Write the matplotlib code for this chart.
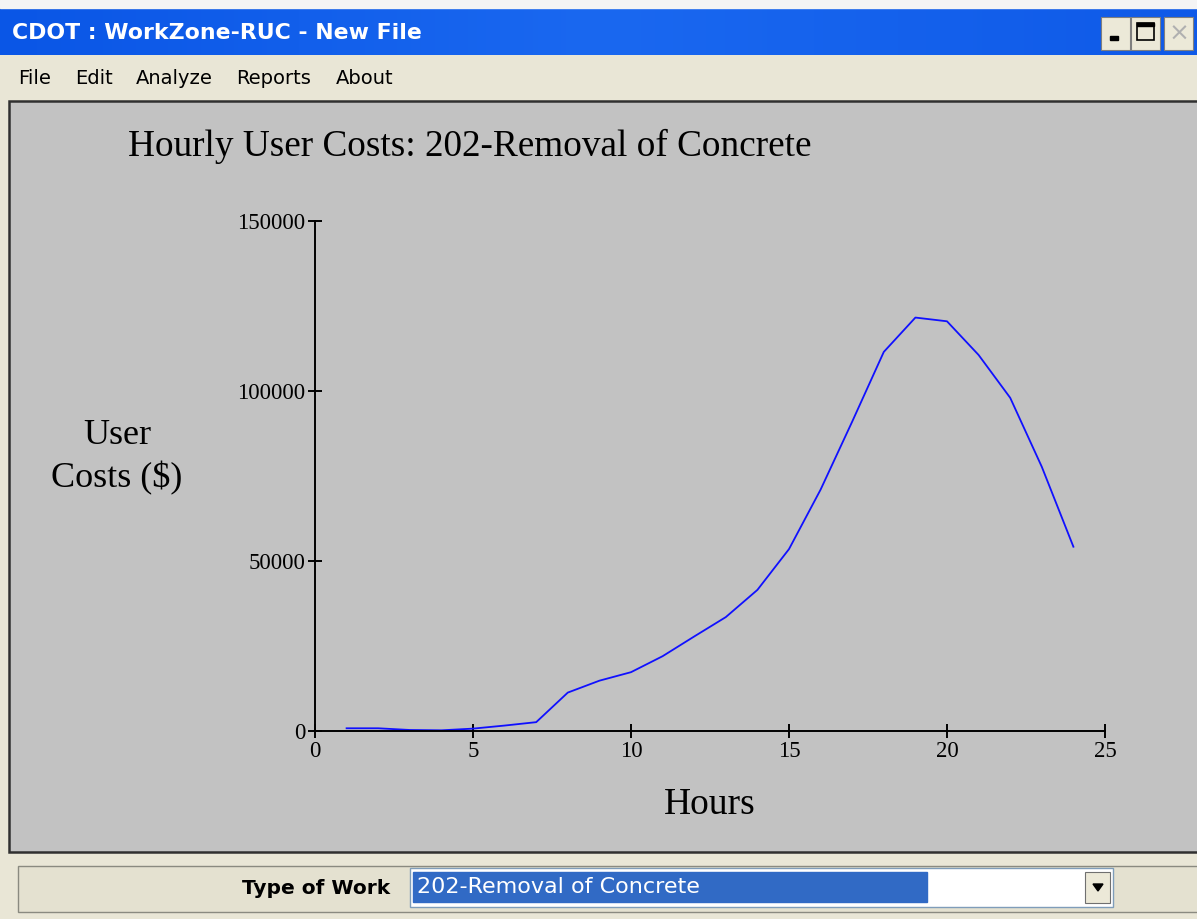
import numpy as np
import matplotlib
matplotlib.use('Agg')
import matplotlib.pyplot as plt
from matplotlib.patches import Rectangle, Polygon

# hourly user costs
hours = [1, 2, 3, 4, 5, 6, 7, 8, 9, 10, 11, 12,
         13, 14, 15, 16, 17, 18, 19, 20, 21, 22, 23, 24]
costs = [800, 800, 300, 200, 700, 1600, 2600, 11300, 14800, 17300, 22000, 27800,
         33500, 41500, 53500, 71000, 91000, 111500, 121600, 120500, 110600, 98000, 77700, 54200]

x_ticks = [0, 5, 10, 15, 20, 25]
y_ticks = [0, 50000, 100000, 150000]

win_title = "CDOT : WorkZone-RUC - New File"
menu_items = ["File", "Edit", "Analyze", "Reports", "About"]
menu_x = [18, 75, 136, 236, 336]
chart_title = "Hourly User Costs: 202-Removal of Concrete"
work_type = "202-Removal of Concrete"

W, H = 1197, 919
serif = 'Liberation Serif'
beige = '#e9e6d6'
panel_gray = '#c2c2c2'

fig = plt.figure(figsize=(W / 100, H / 100), dpi=100)

# window chrome, drawn in pixel coordinates
bg = fig.add_axes([0, 0, 1, 1])
bg.set_xlim(0, W)
bg.set_ylim(H, 0)
bg.axis('off')
bg.add_patch(Rectangle((0, 0), W, H, color=beige))

# title bar gradient
grad = np.linspace(0, 1, 256).reshape(1, -1)
bg.imshow(grad, extent=(0, W, 55, 8), cmap=matplotlib.colors.LinearSegmentedColormap.from_list(
    'tb', ['#0a56e6', '#1a68f0', '#0f5ae8']), aspect='auto', zorder=1)
bg.add_patch(Rectangle((0, 0), W, 8, color='#f4f4f4', zorder=1))
bg.text(12, 33, win_title, color='white', fontsize=15.8, fontweight='bold',
        family='DejaVu Sans', va='center', ha='left', zorder=2)

# window buttons
for bx, glyph in [(1101, 'min'), (1131, 'max'), (1164, 'close')]:
    bg.add_patch(Rectangle((bx, 17), 29, 33, facecolor='#ece9d8', edgecolor='#7f7f7f', lw=0.8, zorder=2))
    if glyph == 'min':
        bg.add_patch(Rectangle((bx + 9, 36), 8, 4, color='black', zorder=3))
    elif glyph == 'max':
        bg.add_patch(Rectangle((bx + 6, 23), 17, 17, facecolor='none', edgecolor='black', lw=1.2, zorder=3))
        bg.add_patch(Rectangle((bx + 6, 23), 17, 3, color='black', zorder=3))
    else:
        bg.text(bx + 15, 34, '×', color='#b0b0b0', fontsize=18, ha='center', va='center', zorder=3)

# menu bar
for label, mx in zip(menu_items, menu_x):
    bg.text(mx, 79, label, fontsize=14, family='DejaVu Sans', va='center', ha='left', zorder=2)

# chart panel
bg.add_patch(Rectangle((9, 101), W, 751, facecolor=panel_gray, edgecolor='#303030', lw=1.8, zorder=1))

# bottom bar with combobox
bg.add_patch(Rectangle((18, 866), W, 46, facecolor='#e4e1d0', edgecolor='#8a8a80', lw=1.0, zorder=1))
bg.text(390, 888, "Type of Work", fontsize=14.5, fontweight='bold', family='DejaVu Sans',
        ha='right', va='center', zorder=2)
bg.add_patch(Rectangle((410, 868), 703, 39, facecolor='white', edgecolor='#7f9db9', lw=1.0, zorder=2))
bg.add_patch(Rectangle((413, 872), 514, 30, color='#316ac5', zorder=3))
bg.text(417, 887, work_type, color='white', fontsize=16, family='DejaVu Sans',
        ha='left', va='center', zorder=4)
bg.add_patch(Rectangle((1085, 872), 25, 31, facecolor='#ece9d8', edgecolor='#707070', lw=0.8, zorder=3))
bg.add_patch(Polygon([(1093, 884), (1103, 884), (1098, 891)], color='black', zorder=4))

# chart texts
bg.text(128, 146, chart_title, family=serif, fontsize=26.8, ha='left', va='center', zorder=2)
bg.text(117, 436, "User", family=serif, fontsize=26, ha='center', va='center', zorder=2)
bg.text(117, 478, "Costs ($)", family=serif, fontsize=26, ha='center', va='center', zorder=2)
bg.text(710, 805, "Hours", family=serif, fontsize=27, ha='center', va='center', zorder=2)

# the chart itself
ax = fig.add_axes([315 / W, (H - 731) / H, 790 / W, 510 / H])
ax.patch.set_alpha(0)
ax.plot(hours, costs, color='#1010ff', lw=1.3)
ax.set_xlim(0, 25)
ax.set_ylim(0, 150000)
ax.set_xticks(x_ticks)
ax.set_yticks(y_ticks)
ax.set_xticklabels([str(t) for t in x_ticks])
ax.set_yticklabels([str(t) for t in y_ticks])
for side in ['top', 'right']:
    ax.spines[side].set_visible(False)
for side in ['left', 'bottom']:
    ax.spines[side].set_linewidth(1.4)
ax.tick_params(direction='inout', length=10, width=1.4, pad=2, labelsize=16.5)
for lbl in ax.get_xticklabels() + ax.get_yticklabels():
    lbl.set_family(serif)

fig.savefig('out.png', dpi=100)
